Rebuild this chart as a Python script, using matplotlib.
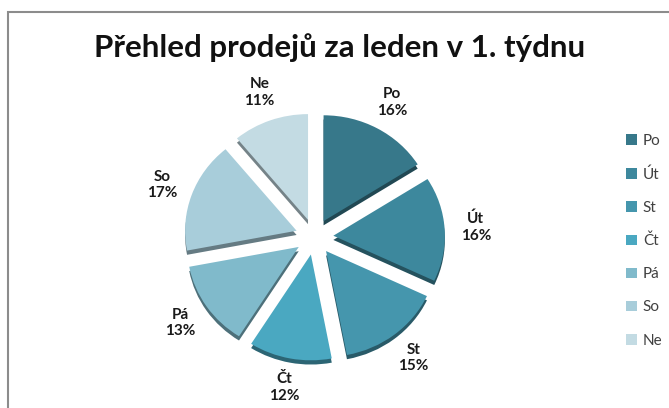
import matplotlib.pyplot as plt
import numpy as np
from matplotlib.patches import Rectangle

# sales per weekday (percent)
days = ['Po', 'Út', 'St', 'Čt', 'Pá', 'So', 'Ne']
shares = [16, 16, 15, 12, 13, 17, 11]
colors = ['#37788a', '#3d889d', '#4596ad', '#4aa8c1', '#80bacb', '#a8cdda', '#c3dbe3']
title = 'Přehled prodejů za leden v 1. týdnu'

plt.rcParams['font.family'] = ['Lato', 'DejaVu Sans']

fig = plt.figure(figsize=(6.69, 4.08), dpi=100)

# chart frame (only left / top edges are inside the picture)
fig.patches.append(Rectangle((8 / 669, -0.1), 1.2, 1 - 12 / 408 + 0.1,
                             transform=fig.transFigure, fill=False,
                             edgecolor='#8c8c8c', linewidth=1.5))

ax = fig.add_axes([0.22, 0.015, 0.5, 0.809])
explode = [0.17] * len(shares)


def darker(c, f=0.6):
    rgb = np.array(plt.matplotlib.colors.to_rgb(c))
    return tuple(rgb * f)


# depth layer for a 3d-ish look
ax.pie(shares, colors=[darker(c) for c in colors], startangle=90,
       counterclock=False, explode=explode, center=(0.0, -0.04),
       wedgeprops=dict(linewidth=0))
wedges, _ = ax.pie(shares, colors=colors, startangle=90, counterclock=False,
                   explode=explode, wedgeprops=dict(linewidth=0))

for w, d, s in zip(wedges, days, shares):
    ang = np.deg2rad((w.theta1 + w.theta2) / 2)
    r = 1.45
    ax.text(r * np.cos(ang), r * np.sin(ang), '{}\n{}%'.format(d, s),
            ha='center', va='center', fontsize=11, fontweight='bold',
            color='#1a1a1a', linespacing=1.25)

ax.set_xlim(-1.5, 1.5)
ax.set_ylim(-1.56, 1.56)
ax.set_aspect('auto')
ax.axis('off')

fig.text(0.508, 1 - 48 / 408, title, ha='center', va='center',
         fontsize=22.5, fontweight='bold', color='#111111')

leg = fig.legend(wedges, days, loc='upper left',
                 bbox_to_anchor=(626 / 669, 1 - 134 / 408),
                 frameon=False, fontsize=11, handlelength=0.7,
                 handleheight=0.7, handletextpad=0.4, labelspacing=1.25,
                 borderaxespad=0, borderpad=0)
for t in leg.get_texts():
    t.set_color('#404040')

fig.savefig('out.png', dpi=100)
